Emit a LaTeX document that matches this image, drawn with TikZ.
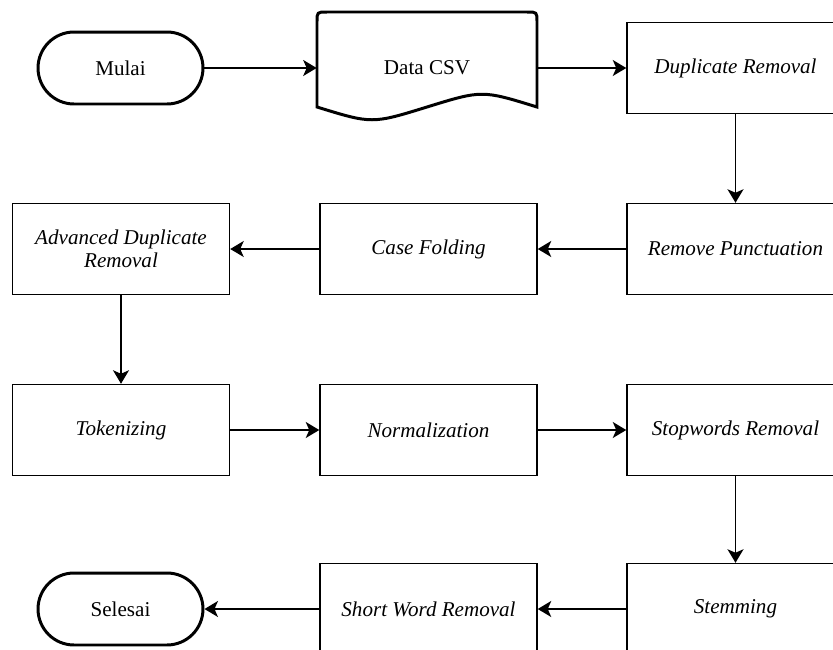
\documentclass[tikz,border=0pt]{standalone}
\usepackage{fontspec}
\setmainfont{Liberation Serif}
\usetikzlibrary{arrows.meta}
\begin{document}
\begin{tikzpicture}[x=0.02cm,y=-0.02cm,
    every node/.style={font=\fontsize{12}{13}\selectfont},
    proc/.style={draw,line width=0.85pt,minimum width=4.34cm,minimum height=1.82cm,
      align=center,font=\fontsize{12}{13}\selectfont\itshape},
    term/.style={draw,line width=1.7pt,rounded corners=0.72cm,minimum width=3.3cm,minimum height=1.44cm},
    docshape/.style={line width=1.7pt},
    flow/.style={-{Stealth[length=0.27cm,width=0.32cm,inset=0.07cm]},line width=0.85pt}]
      \clip (0,0) rectangle (833,650);
      \draw
        (120.5,68) node[term] (mulai){Mulai}
        (427,68) node[minimum width=4.4cm,minimum height=2.24cm] (data){Data CSV}
        (735.5,68) node[proc] (dup){Duplicate Removal}
        (735.5,249) node[proc] (punct){Remove Punctuation}
        (428.5,249) node[proc] (fold){Case Folding}
        (121,249) node[proc] (adv){Advanced Duplicate\\Removal}
        (121,430) node[proc] (tok){Tokenizing}
        (428.5,430) node[proc] (norm){Normalization}
        (735.5,430) node[proc] (stop){Stopwords Removal}
        (735.5,609) node[proc] (stem){Stemming}
        (428.5,609) node[proc] (short){Short Word Removal}
        (120.5,609) node[term] (selesai){Selesai};
      % data csv document outline
      \draw[docshape] (317,107) -- (317,22) .. controls (317,12) .. (327,12) -- (527,12)
        .. controls (537,12) .. (537,22) -- (537,107)
        .. controls (482,90) .. (427,107) .. controls (372,124) .. (317,107) -- cycle;
      \begin{scope}[flow]
        \draw (mulai) to (data);
        \draw (data) to (dup);
        \draw (dup) to (punct);
        \draw (punct) to (fold);
        \draw (fold) to (adv);
        \draw (adv) to (tok);
        \draw (tok) to (norm);
        \draw (norm) to (stop);
        \draw (stop) to (stem);
        \draw (stem) to (short);
        \draw (short) to (selesai);
      \end{scope}
    \end{tikzpicture}
\end{document}
